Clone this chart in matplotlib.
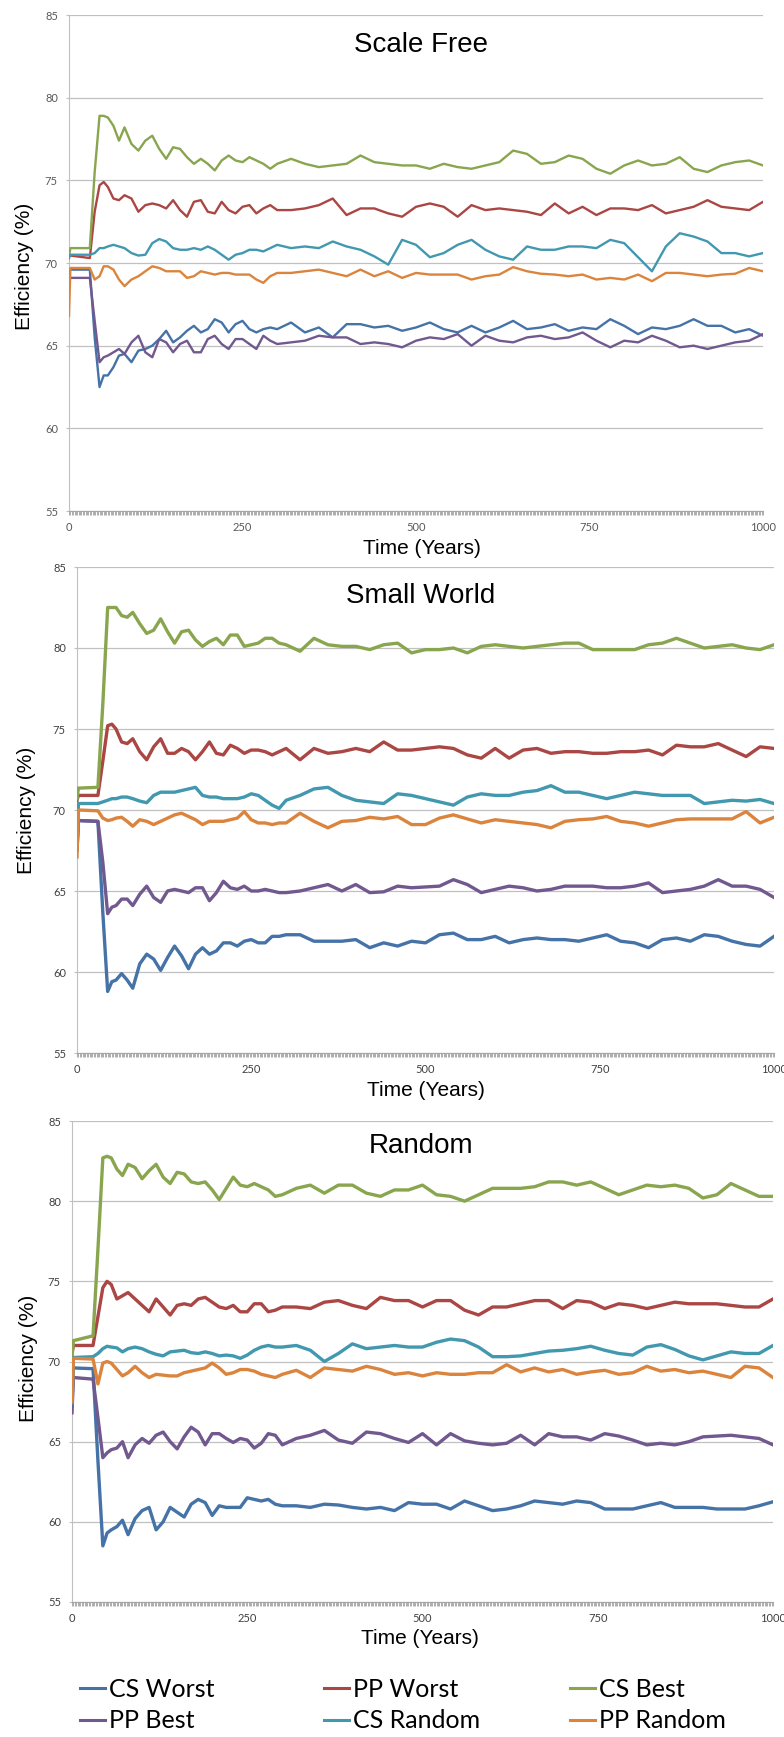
import matplotlib
matplotlib.use("Agg")
import matplotlib.pyplot as plt
from matplotlib import font_manager
from matplotlib.ticker import MultipleLocator
from matplotlib.lines import Line2D

# Sample years (x values) shared by all panels.
YEARS = [0, 2, 30, 37, 44, 50, 56, 64, 72, 80] + list(range(90, 301, 10)) + list(range(320, 1001, 20))

SERIES = ["CS Worst", "PP Worst", "CS Best", "PP Best", "CS Random", "PP Random"]
COLORS = ["#4572A7", "#AA4643", "#89A54E", "#71588F", "#4198AF", "#DB843D"]

# ---- Scale Free ----
sf_cs_worst = [69.4, 69.6, 69.6, 65.5, 62.5, 63.2, 63.2, 63.7, 64.4, 64.5,
               64.0, 64.7, 64.8, 65.0, 65.4, 65.9, 65.2, 65.5, 65.9, 66.2, 65.8, 66.0, 66.6, 66.4, 65.8, 66.3,
               66.5, 66.0, 65.8, 66.0, 66.1, 66.0,
               66.4, 65.8, 66.1, 65.5, 66.3, 66.3, 66.1, 66.2, 65.9, 66.1, 66.4, 66.0, 65.8, 66.2, 65.8, 66.1,
               66.5, 66.0, 66.1, 66.3, 65.9, 66.1, 66.0, 66.6, 66.2, 65.7, 66.1, 66.0, 66.2, 66.6, 66.2, 66.2,
               65.8, 66.0, 65.6]
sf_pp_worst = [70.4, 70.45, 70.3, 73.1, 74.7, 74.9, 74.6, 73.9, 73.8, 74.1,
               73.9, 73.1, 73.5, 73.6, 73.5, 73.3, 73.8, 73.2, 72.8, 73.7, 73.8, 73.1, 73.0, 73.7, 73.2, 73.0,
               73.4, 73.5, 73.0, 73.3, 73.5, 73.2,
               73.2, 73.3, 73.5, 73.9, 72.9, 73.3, 73.3, 73.0, 72.8, 73.4, 73.6, 73.4, 72.8, 73.5, 73.2, 73.3,
               73.2, 73.1, 72.9, 73.6, 73.0, 73.4, 72.9, 73.3, 73.3, 73.2, 73.5, 73.0, 73.2, 73.4, 73.8, 73.4,
               73.3, 73.2, 73.7]
sf_cs_best = [70.4, 70.9, 70.9, 75.5, 78.9, 78.9, 78.8, 78.3, 77.4, 78.2,
              77.2, 76.8, 77.4, 77.7, 76.9, 76.3, 77.0, 76.9, 76.4, 76.0, 76.3, 76.0, 75.6, 76.2, 76.5, 76.2,
              76.1, 76.4, 76.2, 76.0, 75.7, 76.0,
              76.3, 76.0, 75.8, 75.9, 76.0, 76.5, 76.1, 76.0, 75.9, 75.9, 75.7, 76.0, 75.8, 75.7, 75.9, 76.1,
              76.8, 76.6, 76.0, 76.1, 76.5, 76.3, 75.7, 75.4, 75.9, 76.2, 75.9, 76.0, 76.4, 75.7, 75.5, 75.9,
              76.1, 76.2, 75.9]
sf_pp_best = [69.0, 69.1, 69.1, 66.5, 64.0, 64.3, 64.4, 64.6, 64.8, 64.5,
              65.2, 65.6, 64.6, 64.3, 65.4, 65.2, 64.6, 65.1, 65.3, 64.6, 64.6, 65.4, 65.6, 65.1, 64.8, 65.4,
              65.4, 65.1, 64.8, 65.6, 65.3, 65.1,
              65.2, 65.3, 65.6, 65.5, 65.5, 65.1, 65.2, 65.1, 64.9, 65.3, 65.5, 65.4, 65.7, 65.0, 65.6, 65.3,
              65.2, 65.5, 65.6, 65.4, 65.5, 65.8, 65.3, 64.9, 65.3, 65.2, 65.6, 65.3, 64.9, 65.0, 64.8, 65.0,
              65.2, 65.3, 65.7]
sf_cs_random = [70.3, 70.5, 70.5, 70.6, 70.9, 70.9, 71.0, 71.1, 71.0, 70.9,
                70.6, 70.45, 70.5, 71.2, 71.45, 71.3, 70.9, 70.8, 70.8, 70.9, 70.8, 71.0, 70.8, 70.5, 70.2, 70.5,
                70.6, 70.8, 70.8, 70.7, 70.9, 71.1,
                70.9, 71.0, 70.9, 71.3, 71.0, 70.8, 70.4, 69.9, 71.4, 71.1, 70.35, 70.6, 71.1, 71.4, 70.8, 70.4,
                70.2, 71.0, 70.8, 70.8, 71.0, 71.0, 70.9, 71.4, 71.2, 70.35, 69.5, 71.0, 71.8, 71.6, 71.3, 70.6,
                70.6, 70.4, 70.6]
sf_pp_random = [66.8, 69.7, 69.7, 69.0, 69.2, 69.8, 69.8, 69.6, 69.0, 68.6,
                69.0, 69.2, 69.5, 69.8, 69.7, 69.5, 69.5, 69.5, 69.1, 69.2, 69.5, 69.4, 69.3, 69.4, 69.4, 69.3,
                69.3, 69.3, 69.0, 68.8, 69.2, 69.4,
                69.4, 69.5, 69.6, 69.4, 69.2, 69.6, 69.2, 69.5, 69.1, 69.4, 69.3, 69.3, 69.3, 69.0, 69.2, 69.3,
                69.75, 69.5, 69.35, 69.3, 69.2, 69.3, 69.0, 69.1, 69.0, 69.3, 68.9, 69.4, 69.4, 69.3, 69.2, 69.3,
                69.35, 69.7, 69.5]

# ---- Small World ----
sw_cs_worst = [67.6, 69.35, 69.3, 63.7, 58.8, 59.4, 59.5, 59.9, 59.5, 59.0,
               60.5, 61.1, 60.8, 60.1, 60.9, 61.6, 61.0, 60.2, 61.1, 61.5, 61.1, 61.3, 61.8, 61.8, 61.6, 61.9,
               62.0, 61.8, 61.8, 62.2, 62.2, 62.3,
               62.3, 61.9, 61.9, 61.9, 62.0, 61.5, 61.8, 61.6, 61.9, 61.8, 62.3, 62.4, 62.0, 62.0, 62.2, 61.8,
               62.0, 62.1, 62.0, 62.0, 61.9, 62.1, 62.3, 61.9, 61.8, 61.5, 62.0, 62.1, 61.9, 62.3, 62.2, 61.9,
               61.7, 61.6, 62.2]
sw_pp_worst = [70.6, 70.9, 70.9, 73.0, 75.2, 75.3, 75.0, 74.2, 74.1, 74.4,
               73.6, 73.1, 73.9, 74.4, 73.5, 73.5, 73.8, 73.6, 73.1, 73.6, 74.2, 73.5, 73.4, 74.0, 73.8, 73.5,
               73.7, 73.7, 73.6, 73.4, 73.6, 73.8,
               73.1, 73.8, 73.5, 73.6, 73.8, 73.6, 74.2, 73.7, 73.7, 73.8, 73.9, 73.8, 73.4, 73.2, 73.8, 73.2,
               73.7, 73.8, 73.5, 73.6, 73.6, 73.5, 73.5, 73.6, 73.6, 73.7, 73.4, 74.0, 73.9, 73.9, 74.1, 73.7,
               73.3, 73.9, 73.8]
sw_cs_best = [70.7, 71.35, 71.4, 76.5, 82.5, 82.5, 82.5, 82.0, 81.9, 82.2,
              81.5, 80.9, 81.1, 81.8, 81.0, 80.3, 81.0, 81.1, 80.5, 80.1, 80.4, 80.6, 80.2, 80.8, 80.8, 80.1,
              80.2, 80.3, 80.6, 80.6, 80.3, 80.2,
              79.8, 80.6, 80.2, 80.1, 80.1, 79.9, 80.2, 80.3, 79.7, 79.9, 79.9, 80.0, 79.7, 80.1, 80.2, 80.1,
              80.0, 80.1, 80.2, 80.3, 80.3, 79.9, 79.9, 79.9, 79.9, 80.2, 80.3, 80.6, 80.3, 80.0, 80.1, 80.2,
              80.0, 79.9, 80.2]
sw_pp_best = [67.5, 69.35, 69.3, 66.8, 63.6, 64.0, 64.1, 64.5, 64.5, 64.1,
              64.8, 65.3, 64.6, 64.3, 65.0, 65.1, 65.0, 64.9, 65.2, 65.2, 64.4, 64.9, 65.6, 65.2, 65.1, 65.3,
              65.0, 65.0, 65.1, 65.0, 64.9, 64.9,
              65.0, 65.2, 65.4, 65.0, 65.4, 64.9, 64.95, 65.3, 65.2, 65.25, 65.3, 65.7, 65.4, 64.9, 65.1, 65.3,
              65.2, 65.0, 65.1, 65.3, 65.3, 65.3, 65.2, 65.2, 65.3, 65.5, 64.9, 65.0, 65.1, 65.3, 65.7, 65.3,
              65.3, 65.1, 64.6]
sw_cs_random = [67.6, 70.4, 70.4, 70.5, 70.6, 70.7, 70.7, 70.8, 70.8, 70.7,
                70.55, 70.45, 70.9, 71.1, 71.1, 71.1, 71.2, 71.3, 71.4, 70.9, 70.8, 70.8, 70.7, 70.7, 70.7, 70.8,
                71.0, 70.9, 70.6, 70.3, 70.1, 70.6,
                70.9, 71.3, 71.4, 70.9, 70.6, 70.5, 70.4, 71.0, 70.9, 70.7, 70.5, 70.3, 70.8, 71.0, 70.9, 70.9,
                71.1, 71.2, 71.5, 71.1, 71.1, 70.9, 70.7, 70.9, 71.1, 71.0, 70.9, 70.9, 70.9, 70.4, 70.5, 70.6,
                70.55, 70.65, 70.4]
sw_pp_random = [67.1, 70.0, 69.95, 69.5, 69.35, 69.4, 69.5, 69.55, 69.3, 69.0,
                69.4, 69.3, 69.1, 69.3, 69.5, 69.7, 69.8, 69.6, 69.4, 69.1, 69.3, 69.3, 69.3, 69.4, 69.5, 69.9,
                69.4, 69.2, 69.2, 69.1, 69.2, 69.2,
                69.8, 69.3, 68.9, 69.3, 69.35, 69.55, 69.45, 69.6, 69.1, 69.1, 69.5, 69.7, 69.45, 69.2, 69.4, 69.3,
                69.2, 69.1, 68.9, 69.3, 69.4, 69.45, 69.6, 69.3, 69.2, 69.0, 69.2, 69.4, 69.45, 69.45, 69.45, 69.45,
                69.9, 69.2, 69.55]

# ---- Random ----
rn_cs_worst = [67.3, 69.6, 69.55, 63.8, 58.5, 59.3, 59.5, 59.7, 60.1, 59.2,
               60.2, 60.7, 60.9, 59.5, 60.0, 60.9, 60.6, 60.3, 61.1, 61.4, 61.2, 60.4, 61.0, 60.9, 60.9, 60.9,
               61.5, 61.4, 61.3, 61.4, 61.1, 61.0,
               61.0, 60.9, 61.1, 61.05, 60.9, 60.8, 60.9, 60.7, 61.2, 61.1, 61.1, 60.8, 61.3, 61.0, 60.7, 60.8,
               61.0, 61.3, 61.2, 61.1, 61.3, 61.2, 60.8, 60.8, 60.8, 61.0, 61.2, 60.9, 60.9, 60.9, 60.8, 60.8,
               60.8, 61.0, 61.25]
rn_pp_worst = [70.5, 71.0, 71.0, 72.8, 74.6, 75.0, 74.8, 73.9, 74.1, 74.3,
               73.9, 73.5, 73.1, 73.9, 73.4, 72.9, 73.5, 73.6, 73.5, 73.9, 74.0, 73.7, 73.4, 73.3, 73.5, 73.1,
               73.1, 73.6, 73.6, 73.1, 73.2, 73.4,
               73.4, 73.3, 73.7, 73.8, 73.5, 73.3, 74.0, 73.8, 73.8, 73.4, 73.8, 73.8, 73.2, 72.9, 73.4, 73.4,
               73.6, 73.8, 73.8, 73.3, 73.8, 73.7, 73.3, 73.6, 73.5, 73.3, 73.5, 73.7, 73.6, 73.6, 73.6, 73.5,
               73.4, 73.4, 73.9]
rn_cs_best = [70.3, 71.3, 71.6, 77.0, 82.7, 82.8, 82.7, 82.0, 81.6, 82.3,
              82.1, 81.4, 81.9, 82.3, 81.5, 81.1, 81.8, 81.7, 81.2, 81.1, 81.2, 80.7, 80.1, 80.8, 81.5, 81.0,
              80.9, 81.1, 80.9, 80.7, 80.3, 80.4,
              80.8, 81.0, 80.5, 81.0, 81.0, 80.5, 80.3, 80.7, 80.7, 81.0, 80.4, 80.3, 80.0, 80.4, 80.8, 80.8,
              80.8, 80.9, 81.2, 81.2, 81.0, 81.2, 80.8, 80.4, 80.7, 81.0, 80.9, 81.0, 80.8, 80.2, 80.4, 81.1,
              80.7, 80.3, 80.3]
rn_pp_best = [66.8, 69.0, 68.9, 66.5, 64.0, 64.3, 64.5, 64.6, 65.0, 64.0,
              64.8, 65.2, 64.9, 65.4, 65.6, 65.0, 64.55, 65.3, 65.9, 65.6, 64.8, 65.5, 65.5, 65.2, 64.95, 65.2,
              65.1, 64.6, 64.9, 65.5, 65.4, 64.8,
              65.2, 65.4, 65.7, 65.1, 64.9, 65.6, 65.5, 65.2, 64.95, 65.5, 64.8, 65.5, 65.05, 64.9, 64.8, 64.9,
              65.4, 64.8, 65.5, 65.3, 65.3, 65.1, 65.5, 65.35, 65.1, 64.8, 64.9, 64.8, 65.0, 65.3, 65.35, 65.4,
              65.3, 65.2, 64.8]
rn_cs_random = [67.4, 70.25, 70.3, 70.5, 70.8, 70.95, 70.9, 70.85, 70.6, 70.8,
                70.9, 70.8, 70.6, 70.45, 70.35, 70.6, 70.65, 70.7, 70.55, 70.5, 70.6, 70.5, 70.35, 70.4, 70.35, 70.2,
                70.4, 70.7, 70.9, 71.0, 70.9, 70.9,
                71.0, 70.7, 70.0, 70.5, 71.1, 70.8, 70.9, 71.0, 70.9, 70.9, 71.2, 71.4, 71.3, 70.9, 70.3, 70.3,
                70.35, 70.5, 70.65, 70.7, 70.8, 70.95, 70.7, 70.5, 70.4, 70.9, 71.05, 70.75, 70.35, 70.1, 70.35, 70.6,
                70.5, 70.5, 71.0]
rn_pp_random = [67.5, 70.2, 70.15, 68.6, 69.9, 70.0, 69.9, 69.5, 69.1, 69.3,
                69.7, 69.3, 69.0, 69.2, 69.15, 69.1, 69.1, 69.3, 69.4, 69.5, 69.6, 69.9, 69.6, 69.2, 69.3, 69.5,
                69.5, 69.4, 69.2, 69.1, 69.0, 69.2,
                69.45, 69.0, 69.6, 69.5, 69.4, 69.7, 69.5, 69.2, 69.3, 69.1, 69.3, 69.2, 69.2, 69.3, 69.3, 69.8,
                69.35, 69.6, 69.35, 69.5, 69.2, 69.35, 69.45, 69.2, 69.3, 69.7, 69.4, 69.5, 69.3, 69.4, 69.2, 69.0,
                69.7, 69.6, 69.0]

W, H = 784, 1737

_installed = {f.name for f in font_manager.fontManager.ttflist}
REG = "Liberation Sans"
TICKF = "Lato" if "Lato" in _installed else "DejaVu Sans"


def fx(x):
    return x / W


def fy(y):
    return 1 - y / H


# Draws one panel; box is (left, top, right, bottom) in pixels, txt holds label centres.
def draw_panel(fig, box, title, values, txt, lw, tcolor):
    left, top, right, bottom = box
    ax = fig.add_axes([fx(left), fy(bottom), (right - left) / W, (bottom - top) / H])
    for vals, color in zip(values, COLORS):
        ax.plot(YEARS, vals, color=color, lw=lw, solid_joinstyle="round", zorder=3)

    ax.set_xlim(0, 1000)
    ax.set_ylim(55, 85)
    ax.set_xticks([0, 250, 500, 750, 1000])
    ax.set_yticks([55, 60, 65, 70, 75, 80, 85])
    ax.xaxis.set_minor_locator(MultipleLocator(2))
    ax.grid(axis="y", color="#c0c0c0", lw=0.9, zorder=0)
    ax.set_axisbelow(True)

    for s in ["top", "right"]:
        ax.spines[s].set_visible(False)
    ax.spines["left"].set_color("#c0c0c0")
    ax.spines["bottom"].set_color("#a6a6a6")

    ax.tick_params(axis="x", which="both", length=3, width=0.6, color="#a0a0a0",
                   pad=5, labelsize=8, labelcolor=tcolor)
    ax.tick_params(axis="y", length=2.5, width=0.8, color="#c0c0c0",
                   pad=5.5, labelsize=8, labelcolor=tcolor)
    for lab in ax.get_xticklabels() + ax.get_yticklabels():
        lab.set_fontfamily(TICKF)

    fig.text(fx(421), fy(txt["title"]), title, ha="center", va="center", fontsize=20, family=REG)
    fig.text(fx(txt["xlab"][0]), fy(txt["xlab"][1]), "Time (Years)", ha="center", va="center",
             fontsize=15, family=REG)
    fig.text(fx(txt["ylab"][0]), fy(txt["ylab"][1]), "Efficiency (%)", ha="center", va="center",
             rotation=90, fontsize=15, family=REG)
    return ax


def main():
    fig = plt.figure(figsize=(W / 100, H / 100), dpi=100)

    panels = [
        ("Scale Free", (69, 15, 763, 511),
         [sf_cs_worst, sf_pp_worst, sf_cs_best, sf_pp_best, sf_cs_random, sf_pp_random],
         dict(title=45, xlab=(422, 548), ylab=(24, 266)), 1.7, "#595959"),
        ("Small World", (77, 567, 774, 1053),
         [sw_cs_worst, sw_pp_worst, sw_cs_best, sw_pp_best, sw_cs_random, sw_pp_random],
         dict(title=596, xlab=(426, 1091), ylab=(26, 810)), 2.4, "#404040"),
        ("Random", (72, 1121, 773, 1602),
         [rn_cs_worst, rn_pp_worst, rn_cs_best, rn_pp_best, rn_cs_random, rn_pp_random],
         dict(title=1146, xlab=(420, 1639), ylab=(29, 1358)), 2.4, "#404040"),
    ]
    for title, box, values, txt, lw, tcolor in panels:
        draw_panel(fig, box, title, values, txt, lw, tcolor)

    # Legend: three columns of two entries, like the spreadsheet layout.
    handles = [Line2D([], [], color=c, lw=2.2) for c in COLORS]
    columns = [(80, [0, 3]), (324, [1, 4]), (570, [2, 5])]
    for x, idx in columns:
        fig.legend([handles[i] for i in idx], [SERIES[i] for i in idx],
                   loc="upper left", bbox_to_anchor=(fx(x), fy(1678)),
                   frameon=False, borderpad=0, borderaxespad=0, handlelength=1.0,
                   handletextpad=0.15, labelspacing=0.34,
                   prop={"family": TICKF, "size": 18})

    fig.savefig("out.png", dpi=100)


if __name__ == "__main__":
    main()
